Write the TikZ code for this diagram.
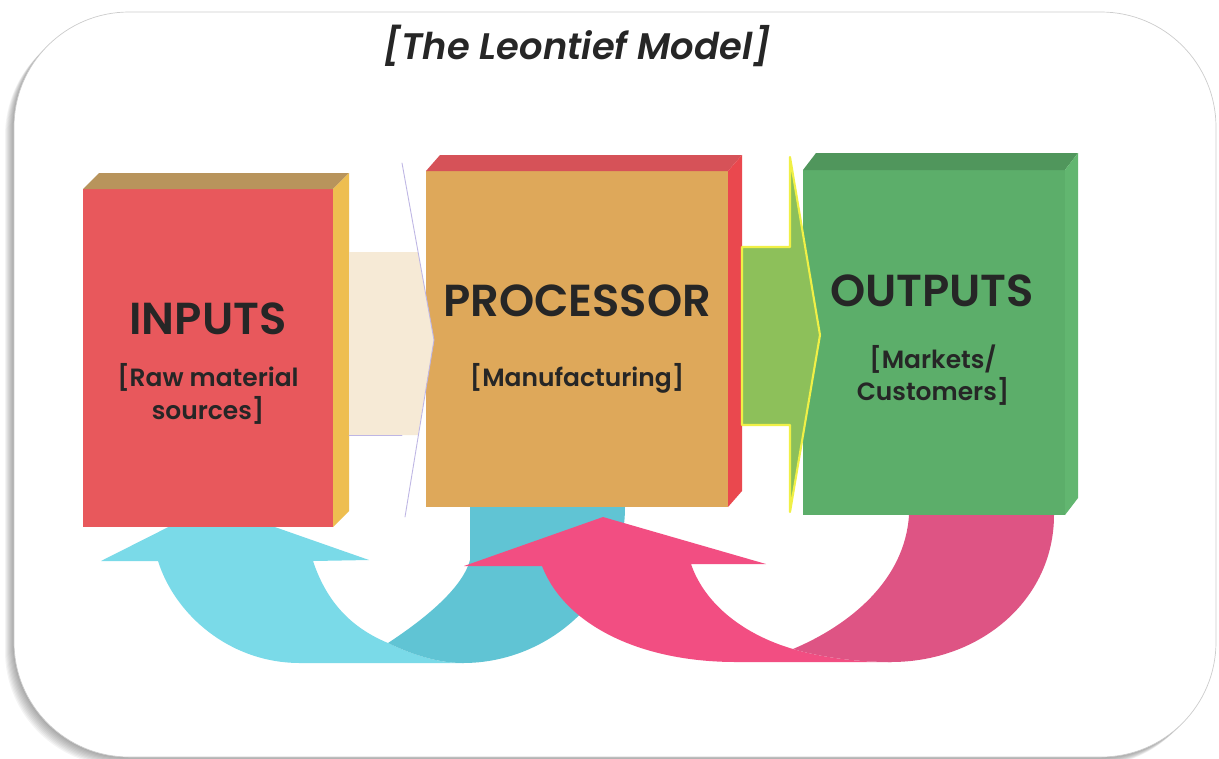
\documentclass[tikz,border=0pt]{standalone}
\usepackage{fontspec}
\setmainfont{Poppins}[BoldFont={Poppins SemiBold}, BoldItalicFont={Poppins SemiBold Italic}]
\definecolor{inFront}{RGB}{232,88,92}
\definecolor{inTop}{RGB}{184,148,92}
\definecolor{inSide}{RGB}{238,190,80}
\definecolor{proFront}{RGB}{222,168,90}
\definecolor{proTop}{RGB}{214,82,88}
\definecolor{proSide}{RGB}{234,72,78}
\definecolor{outFront}{RGB}{92,174,106}
\definecolor{outTop}{RGB}{80,150,92}
\definecolor{outSide}{RGB}{98,182,112}
\definecolor{cream}{RGB}{246,234,214}
\definecolor{lime}{RGB}{141,192,90}
\definecolor{limeEdge}{RGB}{240,240,70}
\definecolor{lavender}{RGB}{190,182,228}
\definecolor{skyLight}{RGB}{122,218,232}
\definecolor{skyDark}{RGB}{96,196,212}
\definecolor{roseLight}{RGB}{242,78,130}
\definecolor{roseDark}{RGB}{222,84,132}
\definecolor{ink}{RGB}{38,38,38}
\begin{document}
\begin{tikzpicture}[x=0.2mm, y=-0.2mm, line join=round, line cap=round,
	head/.style={font=\bfseries\fontsize{25.5}{30}\selectfont, text=ink},
	sub/.style={font=\bfseries\fontsize{14.2}{18.5}\selectfont, text=ink, align=center}]
	\useasboundingbox (0,0) rectangle (1219,758);
	% khung ngoai co bong
	\foreach \s in {1,...,9}
		\fill[black, opacity=0.045, rounded corners=2.3cm] ({14-\s},{12+\s}) rectangle ({1216-\s},{757+\s});
	\draw[gray!40, fill=white, rounded corners=2.3cm] (14,12) rectangle (1216,757);
	% mui ten vong xanh
	\fill[skyLight] (158,561) -- (101,561) -- (212,505) -- (369,560) -- (313,561)
		.. controls (327,603) and (352,628) .. (388,643)
		.. controls (415,656) and (440,663) .. (463,663) -- (300,663)
		.. controls (230,663) and (175,615) .. (158,561) -- cycle;
	\fill[skyDark] (470,500) -- (625,500) -- (625,507)
		.. controls (625,594) and (550,663) .. (463,663)
		.. controls (440,663) and (415,656) .. (388,643)
		.. controls (420,622) and (462,590) .. (470,560) -- cycle;
	% mui ten vong hong
	\fill[roseLight] (542,566) -- (464,566) -- (603,517) -- (766,564) -- (691,564)
		.. controls (705,605) and (745,635) .. (793,649)
		.. controls (820,657) and (855,662) .. (891,662) -- (736,662)
		.. controls (640,662) and (565,625) .. (542,566) -- cycle;
	\fill[roseDark] (909,505) -- (1054,505) -- (1054,515)
		.. controls (1054,600) and (980,662) .. (891,662)
		.. controls (855,662) and (820,657) .. (793,649)
		.. controls (850,625) and (905,580) .. (909,515) -- cycle;
	% ba hop
	\foreach \xl/\xr/\yt/\yb/\dx/\dy/\mat/\nap/\canh in {
		83/333/189/527/16/16/inFront/inTop/inSide,
		426/728/171/507/14/16/proFront/proTop/proSide,
		803/1065/170/515/13/17/outFront/outTop/outSide}{
		\fill[\mat] (\xl,\yt) rectangle (\xr,\yb);
		\fill[\nap] (\xl,\yt) -- ++(\dx,-\dy) -- ({\xr+\dx},{\yt-\dy}) -- (\xr,\yt) -- cycle;
		\fill[\canh] (\xr,\yt) -- ++(\dx,-\dy) -- ({\xr+\dx},{\yb-\dy}) -- (\xr,\yb) -- cycle;
	}
	% mui ten ngang
	\fill[cream] (349,252) -- (418,252) -- (434,340) -- (418,435) -- (349,435) -- cycle;
	\draw[lavender, line width=0.5pt] (402,163) -- (434,340) -- (405,517);
	\draw[lavender, line width=0.5pt] (349,435) -- (402,435);
	\filldraw[fill=lime, draw=limeEdge, line width=1.2pt] (742,247) -- (790,247) -- (790,157)
		-- (820,335) -- (790,512) -- (790,425) -- (742,425) -- cycle;
	% chu
	\node[font=\bfseries\itshape\fontsize{21}{25}\selectfont, text=ink] (title) at (577,46) {[The Leontief Model]};
	\node[head] (inputs) at (208,319) {INPUTS};
	\node[sub] (inputsub) at (208,394) {[Raw material\\sources]};
	\node[head] (processor) at (577,301) {PROCESSOR};
	\node[sub] (processorsub) at (577,378) {[Manufacturing]};
	\node[head] (outputs) at (932,291) {OUTPUTS};
	\node[sub] (outputsub) at (933,375) {[Markets/\\Customers]};
\end{tikzpicture}
\end{document}
